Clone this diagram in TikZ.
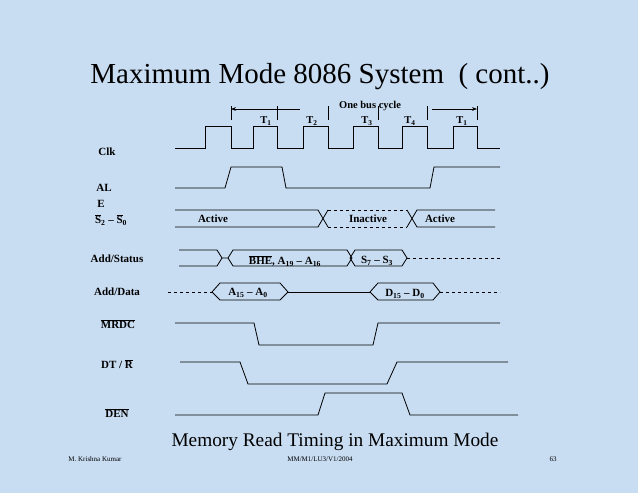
\documentclass[tikz,border=0pt]{standalone}
\usepackage{fontspec}
\setmainfont{Liberation Serif}
\usetikzlibrary{arrows.meta}
\definecolor{bg}{HTML}{C8DCF2}
\newcommand{\sbs}[1]{\textsubscript{#1}}
\newcommand{\olin}[1]{$\overline{\mbox{#1}}$}
\begin{document}
\begin{tikzpicture}[x=1pt,y=-1pt,line width=0.8pt,
  lab/.style={font=\fontsize{11}{13}\selectfont\bfseries,inner sep=0pt},
  tlab/.style={font=\fontsize{10.5}{12}\selectfont\bfseries,inner sep=0pt}]
\fill[bg] (0,0) rectangle (638,493);
\useasboundingbox (0,0) rectangle (638,493);
\node[inner sep=0pt,font=\fontsize{29}{34}\selectfont] (title) at (320,77) {Maximum Mode 8086 System\ \ ( cont..)};
% labels
\node[lab] (clk) at (107,152) {Clk};
\node[lab] (al) at (104,188) {AL};
\node[lab] (e) at (101,204) {E};
\node[lab] (s) at (111,220) {\olin{S}\sbs{2} – \olin{S}\sbs{0}};
\node[lab] (as) at (117,259) {Add/Status};
\node[lab] (ad) at (117,292) {Add/Data};
\node[lab] (mr) at (118,324) {\olin{MRDC}};
\node[lab] (dt) at (117,364) {DT / \olin{R}};
\node[lab] (den) at (117,413) {\olin{DEN}};
% clock
\draw (175,148) -- (205,148) -- (205,126) -- (231,126) -- (231,148) -- (253,148) -- (253,126) -- (277,126) -- (277,148) -- (303,148) -- (303,126) -- (328,126) -- (328,148) -- (353,148) -- (353,126) -- (378,126) -- (378,148) -- (402,148) -- (402,126) -- (427,126) -- (427,148) -- (453,148) -- (453,126) -- (477,126) -- (477,148) -- (500,148);
\foreach \x in {231,277,328,378,427,477} \draw[line width=0.6pt] (\x,106) -- (\x,120);
\coordinate (a1) at (231,109); \coordinate (a2) at (300,109);
\coordinate (b1) at (432,109); \coordinate (b2) at (477,109);
\draw[-{Stealth[length=5pt]},line width=0.6pt] (a2) -- (a1);
\draw[-{Stealth[length=5pt]},line width=0.6pt] (b1) -- (b2);
\node[tlab] (obc) at (370,106) {One bus cycle};
\node[tlab] (t1) at (266,121) {T\sbs{1}};
\node[tlab] (t2) at (312,121) {T\sbs{2}};
\node[tlab] (t3) at (367,121) {T\sbs{3}};
\node[tlab] (t4) at (410,121) {T\sbs{4}};
\node[tlab] (t5) at (462,121) {T\sbs{1}};
% ALE
\draw (175,188) -- (225,188) -- (231,167) -- (282,167) -- (286,188) -- (430,188) -- (434,167) -- (500,167);
% S2-S0
\draw (175,210) -- (318,210) -- (328,227) (175,227) -- (318,227) -- (328,210);
\draw[dashed] (328,210) -- (407,210) (328,227) -- (407,227);
\draw (407,210) -- (417,227) -- (495,227) (407,227) -- (417,210) -- (495,210);
\node[lab] (act1) at (213,219) {Active};
\node[lab] (inact) at (368,219) {Inactive};
\node[lab] (act2) at (440,219) {Active};
% Add/Status
\draw (179,250) -- (217,250) -- (222,258) -- (217,266) -- (179,266);
\draw (222,258) -- (228,258) -- (233,250) -- (347,250) -- (352,258) -- (347,266) -- (233,266) -- (228,258);
\draw (350,258) -- (355,250) -- (402,250) -- (407,258) -- (402,266) -- (355,266) -- cycle;
\draw[dashed] (407,258) -- (500,258);
\node[lab] (bhe) at (285,261) {\olin{BHE}, A\sbs{19} – A\sbs{16}};
\node[lab] (s73) at (377,261) {S\sbs{7} – S\sbs{3}};
% Add/Data
\draw[dashed] (168,292) -- (212,292);
\draw (212,292) -- (220,283) -- (280,283) -- (288,292) -- (280,300) -- (220,300) -- cycle;
\draw (288,292) -- (370,292);
\draw (370,292) -- (378,283) -- (433,283) -- (440,292) -- (433,300) -- (378,300) -- cycle;
\draw[dashed] (440,292) -- (500,292);
\node[lab] (a150) at (248,293) {A\sbs{15} – A\sbs{0}};
\node[lab] (d150) at (405,294) {D\sbs{15} – D\sbs{0}};
% MRDC
\draw (175,323) -- (254,323) -- (259,345) -- (373,345) -- (378,323) -- (500,323);
% DT/R
\draw (180,362) -- (240,362) -- (248,384) -- (387,384) -- (397,362) -- (508,362);
% DEN
\draw (175,415) -- (318,415) -- (325,393) -- (402,393) -- (410,415) -- (518,415);
% caption/footer
\node[inner sep=0pt,font=\fontsize{19.3}{23}\selectfont] (cap) at (335,442) {Memory Read Timing in Maximum Mode};
\node[inner sep=0pt,font=\fontsize{7}{8}\selectfont] (f1) at (95,459) {M. Krishna Kumar};
\node[inner sep=0pt,font=\fontsize{7}{8}\selectfont] (f2) at (320,459) {MM/M1/LU3/V1/2004};
\node[inner sep=0pt,font=\fontsize{7}{8}\selectfont] (f3) at (553,459) {63};
\end{tikzpicture}
\end{document}
